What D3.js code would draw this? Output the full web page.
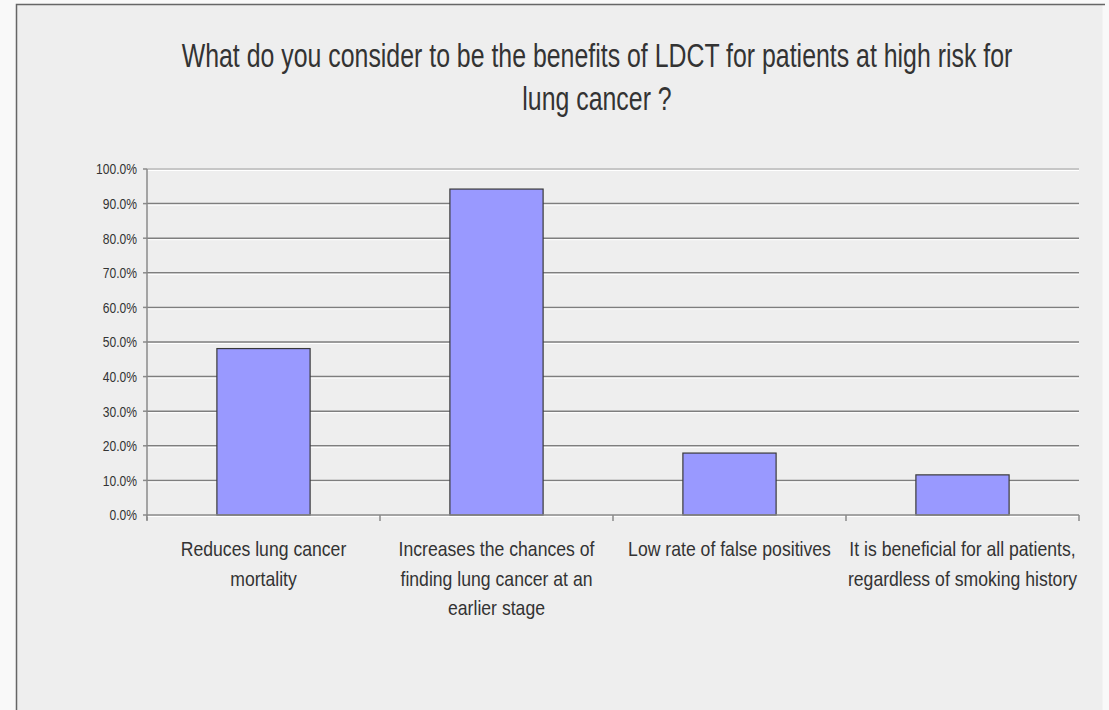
<!DOCTYPE html>
<html>
<head>
<meta charset="utf-8">
<script src="https://cdn.jsdelivr.net/npm/d3@7"></script>
<style>
  html, body { margin: 0; padding: 0; background: #f9f9f9; }
  svg { display: block; }
</style>
</head>
<body>
<svg id="chart" width="1109" height="710"></svg>
<script>
const titleLines = [
  'What do you consider to be the benefits of LDCT for patients at high risk for',
  'lung cancer ?'
]
const categories = [
  ['Reduces lung cancer', 'mortality'],
  ['Increases the chances of', 'finding lung cancer at an', 'earlier stage'],
  ['Low rate of false positives'],
  ['It is beneficial for all patients,', 'regardless of smoking history']
]
const values = [0.481, 0.942, 0.179, 0.116]
const yTicks = [0, 0.1, 0.2, 0.3, 0.4, 0.5, 0.6, 0.7, 0.8, 0.9, 1.0]

// no Arial Narrow here, so squeeze Liberation Sans horizontally
const font = '"Liberation Sans", Arial, sans-serif'

const svg = d3.select('#chart')

// chart panel
svg.append('rect')
  .attr('x', 16.5).attr('y', 4.5)
  .attr('width', 1086).attr('height', 720)
  .attr('fill', '#eeeeee')
svg.append('path')
  .attr('d', 'M16.5,710V4.5H1105')
  .attr('fill', 'none')
  .attr('stroke', '#666')
  .attr('stroke-width', 1.5)

const plotLeft = 147
const plotRight = 1079
const plotTop = 169
const plotBottom = 515

const x = d3.scaleBand()
  .domain(d3.range(categories.length))
  .range([plotLeft, plotRight])
  .paddingInner(0.6)
  .paddingOuter(0.3)
const step = (plotRight - plotLeft) / categories.length

const y = d3.scaleLinear().domain([0, 1]).range([plotBottom, plotTop])
const fmt = d3.format('.1%')

// title, scaled so the first line spans the same width as in the source
const title = svg.append('g')
  .selectAll('text')
  .data(titleLines)
  .join('text')
  .attr('text-anchor', 'middle')
  .attr('font-family', font)
  .attr('font-size', 34)
  .attr('fill', '#333')
  .text(d => d)
const titleSx = 831 / title.node().getComputedTextLength()
title.attr('transform', (d, i) => `translate(597,${67 + i * 43}) scale(${titleSx},1)`)

// gridlines
const grid = svg.append('g')
grid.selectAll('line.g')
  .data(yTicks.filter(t => t > 0))
  .join('line')
  .attr('class', 'g')
  .attr('x1', plotLeft).attr('x2', plotRight)
  .attr('y1', d => y(d)).attr('y2', d => y(d))
  .attr('stroke', d => (d === 1 ? '#b8b8b8' : '#7e7e7e'))
  .attr('stroke-width', 1.5)
grid.selectAll('line.h')
  .data(yTicks.filter(t => t > 0))
  .join('line')
  .attr('class', 'h')
  .attr('x1', plotLeft).attr('x2', plotRight)
  .attr('y1', d => y(d) + 1.5).attr('y2', d => y(d) + 1.5)
  .attr('stroke', '#fff')
  .attr('stroke-width', 1)

// bars
svg.append('g')
  .selectAll('rect')
  .data(values)
  .join('rect')
  .attr('x', (d, i) => x(i))
  .attr('y', d => y(d))
  .attr('width', x.bandwidth())
  .attr('height', d => y(0) - y(d))
  .attr('fill', '#9999ff')
  .attr('stroke', '#3a3a3a')
  .attr('stroke-width', 1.2)

// y axis
const yAxis = svg.append('g')
yAxis.append('line')
  .attr('x1', plotLeft).attr('x2', plotLeft)
  .attr('y1', plotTop).attr('y2', plotBottom + 5)
  .attr('stroke', '#8a8a8a').attr('stroke-width', 1.5)
yAxis.selectAll('line.t')
  .data(yTicks)
  .join('line')
  .attr('class', 't')
  .attr('x1', plotLeft - 4).attr('x2', plotLeft)
  .attr('y1', d => y(d)).attr('y2', d => y(d))
  .attr('stroke', '#8a8a8a').attr('stroke-width', 1.5)
yAxis.selectAll('text')
  .data(yTicks)
  .join('text')
  .attr('transform', d => `translate(137,${y(d)}) scale(0.78,1)`)
  .attr('dy', '0.35em')
  .attr('text-anchor', 'end')
  .attr('font-family', font)
  .attr('font-size', 15.5)
  .attr('fill', '#333')
  .text(d => fmt(d))

// x axis
const xAxis = svg.append('g')
xAxis.append('line')
  .attr('x1', plotLeft).attr('x2', plotRight)
  .attr('y1', plotBottom).attr('y2', plotBottom)
  .attr('stroke', '#8a8a8a').attr('stroke-width', 1.5)
xAxis.append('line')
  .attr('x1', plotLeft).attr('x2', plotRight)
  .attr('y1', plotBottom + 1.5).attr('y2', plotBottom + 1.5)
  .attr('stroke', '#fff').attr('stroke-width', 1)
xAxis.selectAll('line.t')
  .data(d3.range(categories.length + 1))
  .join('line')
  .attr('class', 't')
  .attr('x1', i => plotLeft + i * step).attr('x2', i => plotLeft + i * step)
  .attr('y1', plotBottom).attr('y2', plotBottom + 6)
  .attr('stroke', '#8a8a8a').attr('stroke-width', 1.5)

const labelLines = categories.flatMap((lines, i) =>
  lines.map((text, j) => ({ text, i, j })))
xAxis.selectAll('text')
  .data(labelLines)
  .join('text')
  .attr('transform', d =>
    `translate(${x(d.i) + x.bandwidth() / 2},${556 + d.j * 29.5}) scale(0.86,1)`)
  .attr('text-anchor', 'middle')
  .attr('font-family', font)
  .attr('font-size', 20.5)
  .attr('fill', '#333')
  .text(d => d.text)
</script>
</body>
</html>
